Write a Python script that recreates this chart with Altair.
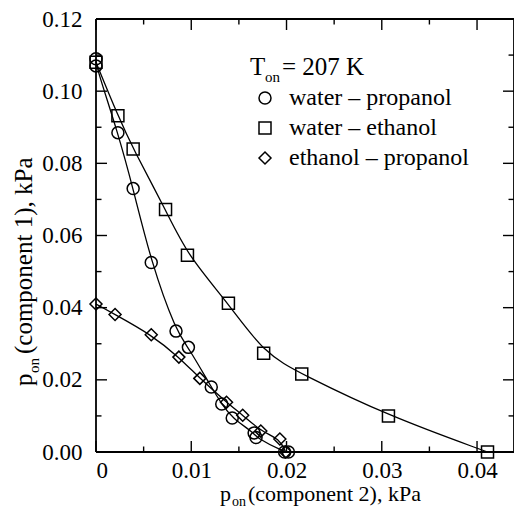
import altair as alt
import pandas as pd

# ---- data ----
series_names = ["water – propanol", "water – ethanol", "ethanol – propanol"]

circ_x = [0, 0, 0.0023, 0.0039, 0.0058, 0.0084, 0.0097, 0.0121, 0.0132, 0.0143, 0.0166, 0.0168, 0.0198, 0.0202]
circ_y = [0.109, 0.107, 0.0885, 0.073, 0.0525, 0.0335, 0.029, 0.018, 0.0133, 0.0094, 0.0053, 0.0040, 0.0, 0.0]

sq_x = [0, 0.0023, 0.0039, 0.0073, 0.0096, 0.0139, 0.0176, 0.0216, 0.0307, 0.0411]
sq_y = [0.108, 0.0932, 0.084, 0.0672, 0.0545, 0.0412, 0.0274, 0.0216, 0.0100, 0.0]

dia_x = [0, 0.0020, 0.0058, 0.0087, 0.0109, 0.0137, 0.0154, 0.0173, 0.0193, 0.0199]
dia_y = [0.041, 0.0381, 0.0325, 0.0263, 0.0204, 0.0138, 0.0102, 0.0058, 0.0036, 0.0]

x_major = [0, 0.01, 0.02, 0.03, 0.04]
x_minor = [0.005, 0.015, 0.025, 0.035]
y_major = [0, 0.02, 0.04, 0.06, 0.08, 0.10, 0.12]
y_minor = [0.01, 0.03, 0.05, 0.07, 0.09, 0.11]

X_MAX, Y_MAX = 0.04388, 0.12
temp_label = "= 207 K"

# ---- build table ----
rows = []
for name, xs, ys in zip(series_names, [circ_x, sq_x, dia_x], [circ_y, sq_y, dia_y]):
    for i, (a, b) in enumerate(zip(xs, ys)):
        rows.append({"series": name, "x": a, "y": b, "idx": i})
df = pd.DataFrame(rows)

W, H = 418, 433
TOP = 11
FONT = "Liberation Serif"
xscale = alt.Scale(domain=[0, X_MAX], nice=False, zero=False)
yscale = alt.Scale(domain=[0, Y_MAX], nice=False, zero=False)

xaxis = alt.Axis(values=x_major, labelExpr="datum.value == 0 ? '0' : format(datum.value, '.2f')",
                 title=None, ticks=False, domain=False, grid=False, labelPadding=7,
                 labelFontSize=23, labelFont=FONT, labelColor="black")
yaxis = alt.Axis(values=y_major, labelExpr="format(datum.value, '.2f')", title=None,
                 ticks=False, domain=False, grid=False,
                 labelPadding=14, labelFontSize=23, labelFont=FONT, labelColor="black")

base = alt.Chart(df)
lines = base.mark_line(color="black", strokeWidth=1.3, interpolate="basis").encode(
    x=alt.X("x:Q", scale=xscale, axis=xaxis),
    y=alt.Y("y:Q", scale=yscale, axis=yaxis),
    detail="series:N",
    order="idx:Q",
)
points = base.mark_point(filled=False, color="black", size=144, strokeWidth=1.5, opacity=1).encode(
    x=alt.X("x:Q", scale=xscale, axis=xaxis),
    y=alt.Y("y:Q", scale=yscale, axis=yaxis),
    shape=alt.Shape("series:N",
                    scale=alt.Scale(domain=series_names, range=["circle", "square", "diamond"]),
                    legend=alt.Legend(title=None, orient="none", legendX=157, legendY=67,
                                      labelFont=FONT, labelFontSize=24, labelColor="black",
                                      labelLimit=400, labelOffset=12, symbolSize=144,
                                      symbolStrokeColor="black", symbolStrokeWidth=1.5,
                                      symbolFillColor="transparent", rowPadding=6)),
)

def ticks_x(vals, length, bottom=True):
    d = pd.DataFrame({"x": vals})
    if bottom:
        yy, yy2 = H, H - length
    else:
        yy, yy2 = 0, length
    return alt.Chart(d).mark_rule(color="black", strokeWidth=1.4).encode(
        x=alt.X("x:Q", scale=xscale, axis=xaxis), y=alt.value(yy), y2=alt.value(yy2))

def ticks_y(vals, length, left=True):
    d = pd.DataFrame({"y": vals})
    if left:
        xx, xx2 = 0, length
    else:
        xx, xx2 = W, W - length
    return alt.Chart(d).mark_rule(color="black", strokeWidth=1.4).encode(
        y=alt.Y("y:Q", scale=yscale, axis=yaxis), x=alt.value(xx), x2=alt.value(xx2))

tick_layers = [
    ticks_x(x_major, 11, True), ticks_x(x_minor, 5.5, True),
    ticks_x(x_major, 11, False), ticks_x(x_minor, 5.5, False),
    ticks_y(y_major, 11, True), ticks_y(y_minor, 5.5, True),
    ticks_y(y_major, 11, False), ticks_y(y_minor, 5.5, False),
]

# plot frame drawn through the scales
frame_v = alt.Chart(pd.DataFrame({"x": [0, X_MAX]})).mark_rule(color="black", strokeWidth=1.8).encode(
    x=alt.X("x:Q", scale=xscale, axis=xaxis))
frame_h = alt.Chart(pd.DataFrame({"y": [0, Y_MAX]})).mark_rule(color="black", strokeWidth=1.8).encode(
    y=alt.Y("y:Q", scale=yscale, axis=yaxis))

def txt(s, x, y, size=23, angle=0):
    kw = dict(align="left", baseline="alphabetic", font=FONT, fontSize=size, color="black")
    if angle:
        kw["angle"] = angle
    return alt.Chart(pd.DataFrame({"t": [s]})).mark_text(**kw).encode(
        text="t:N", x=alt.value(x), y=alt.value(y))

titles = [
    # x axis title
    txt("p", 124, 482, size=22), txt("on", 136, 487, size=14),
    txt("(component 2), kPa", 152, 482, size=22),
    # y axis title (rotated)
    txt("p", -64, 367, size=25, angle=270), txt("on", -57, 354, size=15, angle=270),
    txt("(component 1), kPa", -64, 335, size=25, angle=270),
    # legend header
    txt("T", 154, 56, size=25), txt("on", 169, 63, size=15), txt(temp_label, 186, 56, size=25),
]

chart = alt.layer(lines, points, *tick_layers, frame_v, frame_h, *titles).properties(
    width=W, height=H,
    background="white",
    autosize=alt.AutoSizeParams(type="none"),
    padding={"left": 88, "top": TOP, "right": 0, "bottom": 57},
).configure_view(strokeWidth=0)

chart.save("out.html", embed_options={"renderer": "svg", "actions": False})
